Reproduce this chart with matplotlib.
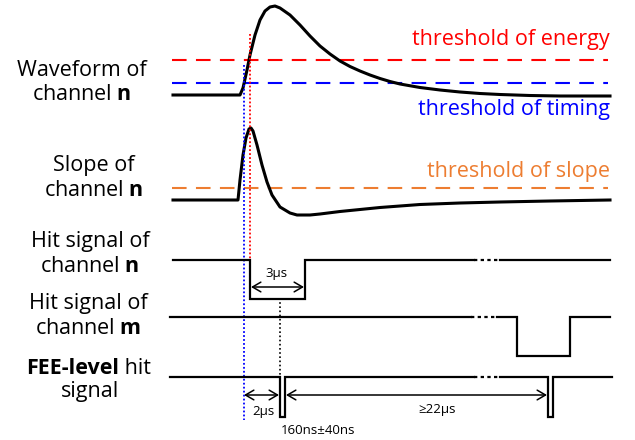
import numpy as np
import matplotlib.pyplot as plt

plt.rcParams['font.family'] = ['Open Sans', 'DejaVu Sans']
plt.rcParams['mathtext.fontset'] = 'custom'
plt.rcParams['mathtext.rm'] = 'Open Sans'
plt.rcParams['mathtext.bf'] = 'Open Sans:bold'

# waveform of channel n (pixel coords)
wave_x = [173, 240, 243, 247, 250, 255, 260, 265, 270, 275, 280, 290, 300, 310, 320,
          330, 340, 350, 360, 370, 380, 390, 400, 420, 440, 460, 480, 500, 530, 560, 610]
wave_y = [95, 95, 88, 70, 55, 35, 20, 11, 7, 6, 8, 15, 25, 36, 46,
          54, 61, 66.5, 71, 75, 78.5, 81.5, 84, 87.5, 90, 92, 93.5, 94.5, 95.5, 96, 96]

# slope of channel n
slope_x = [173, 238, 240, 243, 246, 249, 251, 253, 257, 262, 267, 272, 280, 290, 297,
           310, 320, 340, 360, 380, 400, 420, 460, 500, 550, 610]
slope_y = [200, 200, 180, 155, 138, 129, 128, 131, 145, 165, 182, 195, 207, 213, 215,
           215, 214, 211.5, 209.5, 207.5, 206, 204.5, 203, 202, 201, 200]

# digital signals: (x, y) corner points
hitn_x = [173, 250, 250, 305, 305, 474]
hitn_y = [260, 260, 299, 299, 260, 260]
hitn2_x = [500, 610]
hitn2_y = [260, 260]
hitm_x = [170, 471]
hitm_y = [317, 317]
hitm2_x = [497, 517, 517, 570, 570, 610]
hitm2_y = [317, 317, 356, 356, 317, 317]
fee_x = [170, 280, 280, 285, 285, 474]
fee_y = [377, 377, 417, 417, 377, 377]
fee2_x = [500, 548, 548, 553, 553, 612]
fee2_y = [377, 377, 417, 417, 377, 377]

thr_energy = 60
thr_timing = 83
thr_slope = 188

fig = plt.figure(figsize=(6.35, 4.4), dpi=100)
ax = fig.add_axes([0, 0, 1, 1])
ax.set_xlim(0, 635)
ax.set_ylim(440, 0)
ax.axis('off')

red = '#FF0000'
blue = '#0000FF'
orange = '#ED7D31'

# thresholds
ax.plot([172, 608], [thr_energy, thr_energy], color=red, lw=1.5, dashes=(7, 4.5))
ax.plot([172, 608], [thr_timing, thr_timing], color=blue, lw=1.5, dashes=(7, 4.5))
ax.plot([172, 608], [thr_slope, thr_slope], color=orange, lw=1.5, dashes=(7, 4.5))

ax.plot(wave_x, wave_y, color='black', lw=2.2, solid_joinstyle='round')
ax.plot(slope_x, slope_y, color='black', lw=2.2, solid_joinstyle='round')

# vertical markers
ax.plot([244, 244], [65, 420], color=blue, lw=1.3, ls=(0, (1, 1.2)))
ax.plot([250, 250], [34, 260], color=red, lw=1.3, ls=(0, (1, 1.2)))
ax.plot([280, 280], [298, 377], color='black', lw=1.2, ls=(0, (1, 1.5)))

for xs, ys in [(hitn_x, hitn_y), (hitn2_x, hitn2_y), (hitm_x, hitm_y),
               (hitm2_x, hitm2_y), (fee_x, fee_y), (fee2_x, fee2_y)]:
    ax.plot(xs, ys, color='black', lw=1.6, solid_joinstyle='miter')
for x0, x1, y in [(474, 500, 260), (471, 497, 317), (474, 500, 377)]:
    ax.plot([x0, x1], [y, y], color='black', lw=1.6, ls=(0, (1.5, 1.5)))

# arrows
arr = dict(arrowstyle='<->,head_length=0.6,head_width=0.35', lw=1.1,
           color='black', shrinkA=0, shrinkB=0)
ax.annotate('', xy=(251, 287), xytext=(304, 287), arrowprops=arr)
ax.annotate('', xy=(244, 395), xytext=(279, 395), arrowprops=arr)
ax.annotate('', xy=(286, 395), xytext=(547, 395), arrowprops=arr)

sfs = 9.5
ax.text(277, 273, '3µs', fontsize=sfs, ha='center', va='center')
ax.text(263, 412, '2µs', fontsize=sfs, ha='center', va='center')
ax.text(437, 410, '≥22µs', fontsize=sfs, ha='center', va='center')
ax.text(318, 430, '160ns±40ns', fontsize=sfs, ha='center', va='center')

# threshold labels
fs = 15.5
ax.text(610, 39, 'threshold of energy', color=red, fontsize=fs, ha='right', va='center')
ax.text(610, 110, 'threshold of timing', color=blue, fontsize=fs, ha='right', va='center')
ax.text(610, 172, 'threshold of slope', color=orange, fontsize=fs, ha='right', va='center')

# row labels
ax.text(82, 70, 'Waveform of', fontsize=fs, ha='center', va='center')
ax.text(82, 95, r'channel $\mathbf{n}$', fontsize=fs, ha='center', va='center')
ax.text(94, 165, 'Slope of', fontsize=fs, ha='center', va='center')
ax.text(94, 190, r'channel $\mathbf{n}$', fontsize=fs, ha='center', va='center')
ax.text(90, 242, 'Hit signal of', fontsize=fs, ha='center', va='center')
ax.text(90, 267, r'channel $\mathbf{n}$', fontsize=fs, ha='center', va='center')
ax.text(88, 304, 'Hit signal of', fontsize=fs, ha='center', va='center')
ax.text(88, 328, r'channel $\mathbf{m}$', fontsize=fs, ha='center', va='center')
t1 = ax.text(26, 368, 'FEE-level', fontsize=fs, weight='bold', ha='left', va='center')
ax.annotate(' hit', xy=(1, 0), xycoords=t1, fontsize=fs, ha='left', va='bottom')
ax.text(90, 392, 'signal', fontsize=fs, ha='center', va='center')

fig.savefig('out.png', dpi=100)
